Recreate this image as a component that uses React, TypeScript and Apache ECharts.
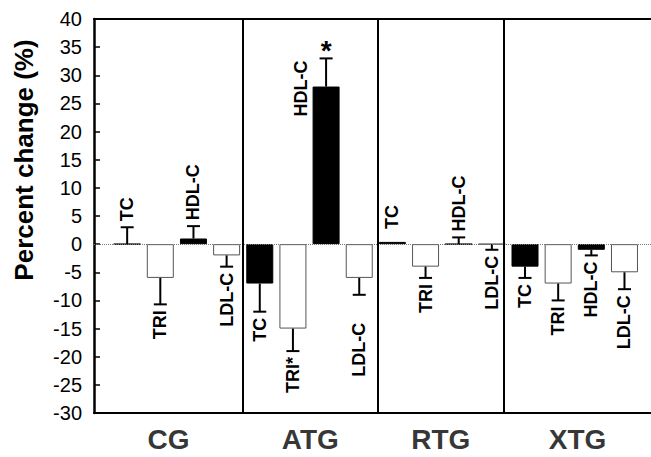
import React, { useEffect, useRef } from 'react';
import * as echarts from 'echarts';

// ---------- data ----------
const groups = ['CG', 'ATG', 'RTG', 'XTG'];
const measures = ['TC', 'TRI', 'HDL-C', 'LDL-C'];

// percent change (bar value) per measure, for each group
const cgValues = [0, -6, 1, -2];
const atgValues = [-7, -15, 28, -6];
const rtgValues = [0.4, -4, 0, 0];
const xtgValues = [-4, -7, -1, -5];

// signed error (positive = drawn upward, negative = drawn downward)
const cgErrors = [3, -4.7, 2.2, -2];
const atgErrors = [-5, -4, 5, -3];
const rtgErrors = [0, -2, 1.2, -1];
const xtgErrors = [-2, -3, -1, -3];

// significance markers (*)
const cgSig = [false, false, false, false];
const atgSig = [false, true, true, false];
const rtgSig = [false, false, false, false];
const xtgSig = [false, false, false, false];

const yMin = -30;
const yMax = 40;
const yStep = 5;

// ---------- layout / style ----------
const FONT = '"Liberation Sans", Arial, Helvetica, sans-serif';
const X_MAX = 16.8;
const DIVIDERS = [4.5, 8.55, 12.37];
const FILLED = ['TC', 'HDL-C'];
const LABEL_GAP = 6;
const LABEL_SHIFT: Record<string, [number, number]> = {
  'ATG|HDL-C': [-25, 64],
  'ATG|LDL-C': [0, 22],
  'RTG|TC': [0, -7],
};

const groupValues = [cgValues, atgValues, rtgValues, xtgValues];
const groupErrors = [cgErrors, atgErrors, rtgErrors, xtgErrors];
const groupSig = [cgSig, atgSig, rtgSig, xtgSig];

type Item = { x: number; v: number; e: number; sig: boolean; label: string; key: string; filled: boolean };
const items: Item[] = [];
groups.forEach((g, gi) => {
  measures.forEach((m, mi) => {
    items.push({
      x: gi * measures.length + mi + 1,
      v: groupValues[gi][mi],
      e: groupErrors[gi][mi],
      sig: groupSig[gi][mi],
      label: m,
      key: g + '|' + m,
      filled: FILLED.includes(m),
    });
  });
});

const bounds = [0, ...DIVIDERS, X_MAX];
const groupCenters = groups.map((_, i) => (bounds[i] + bounds[i + 1]) / 2);

export default function App() {
  const ref = useRef<HTMLDivElement>(null);

  useEffect(() => {
    const chart = echarts.init(ref.current!, null, { renderer: 'svg' });

    const axisLineStyle = { color: '#000', width: 2 };

    const option: any = {
      animation: false,
      backgroundColor: '#fff',
      grid: { left: 94, top: 19, right: 0, bottom: 44 },
      xAxis: [
        {
          type: 'value',
          min: 0,
          max: X_MAX,
          position: 'bottom',
          axisLine: { show: true, onZero: false, lineStyle: axisLineStyle },
          axisTick: { show: false },
          axisLabel: { show: false },
          splitLine: { show: false },
        },
        {
          type: 'value',
          min: 0,
          max: X_MAX,
          position: 'top',
          axisLine: { show: true, onZero: false, lineStyle: axisLineStyle },
          axisTick: { show: false },
          axisLabel: { show: false },
          splitLine: { show: false },
        },
      ],
      yAxis: {
        type: 'value',
        min: yMin,
        max: yMax,
        interval: yStep,
        axisLine: { show: true, onZero: false, lineStyle: { color: '#000', width: 2.5 } },
        axisTick: { show: true, inside: true, length: 6, lineStyle: { color: '#000', width: 1.5 } },
        axisLabel: { color: '#000', fontSize: 20, fontFamily: FONT, margin: 12 },
        splitLine: { show: false },
      },
      graphic: [
        {
          type: 'text',
          x: 24,
          y: 160,
          rotation: Math.PI / 2,
          style: {
            text: 'Percent change (%)',
            fontSize: 26,
            fontWeight: 'bold',
            fontFamily: FONT,
            fill: '#000',
            align: 'center',
            verticalAlign: 'middle',
          },
        },
      ],
      series: [
        {
          type: 'bar',
          barWidth: 27,
          silent: true,
          data: items.map((it) => ({
            value: [it.x, it.v],
            itemStyle: {
              color: it.filled ? '#000' : '#fff',
              borderColor: it.filled ? '#000' : '#555',
              borderWidth: 1,
            },
          })),
          markLine: {
            silent: true,
            symbol: 'none',
            label: { show: false },
            data: [
              { yAxis: 0, lineStyle: { type: 'dotted', color: '#777', width: 1 } },
              ...DIVIDERS.map((d) => ({ xAxis: d, lineStyle: { type: 'solid', color: '#000', width: 2 } })),
            ],
          },
          z: 2,
        },
        {
          type: 'custom',
          silent: true,
          clip: false,
          z: 3,
          data: items.map((it) => [it.x, it.v, it.e]),
          encode: { x: 0, y: 1 },
          renderItem: (params: any, api: any) => {
            const it = items[params.dataIndex];
            const x = api.value(0);
            const v = api.value(1);
            const e = api.value(2);
            const p0 = api.coord([x, v]);
            const p1 = api.coord([x, v + e]);
            const up = e > 0 || (e === 0 && v >= 0);
            const children: any[] = [];
            if (e !== 0) {
              children.push({
                type: 'line',
                shape: { x1: p0[0], y1: p0[1], x2: p1[0], y2: p1[1] },
                style: { stroke: '#000', lineWidth: 2 },
              });
              children.push({
                type: 'line',
                shape: { x1: p1[0] - 6.5, y1: p1[1], x2: p1[0] + 6.5, y2: p1[1] },
                style: { stroke: '#000', lineWidth: 2 },
              });
            }
            const shift = LABEL_SHIFT[it.key] || [0, 0];
            const endY = p1[1];
            const ly = (up ? endY - LABEL_GAP : endY + LABEL_GAP) + shift[1];
            children.push({
              type: 'text',
              x: p1[0] + shift[0],
              y: ly,
              rotation: Math.PI / 2,
              style: {
                text: it.label + (it.sig && !up ? '*' : ''),
                fontSize: 18,
                fontWeight: 'bold',
                fontFamily: FONT,
                fill: '#000',
                align: up ? 'left' : 'right',
                verticalAlign: 'middle',
              },
            });
            if (it.sig && up) {
              children.push({
                type: 'text',
                x: p1[0],
                y: endY - 8,
                style: {
                  text: '*',
                  fontSize: 28,
                  fontWeight: 'bold',
                  fontFamily: FONT,
                  fill: '#000',
                  align: 'center',
                  verticalAlign: 'middle',
                },
              });
            }
            return { type: 'group', children };
          },
        },
        {
          type: 'scatter',
          silent: true,
          symbolSize: 0,
          data: groupCenters.map((c) => [c, yMin]),
          label: {
            show: true,
            position: 'bottom',
            distance: 12,
            formatter: (p: any) => groups[p.dataIndex],
            color: '#000',
            fontSize: 28,
            fontWeight: 'bold',
            fontFamily: FONT,
          },
        },
      ],
    };

    chart.setOption(option);
    return () => chart.dispose();
  }, []);

  return (
    <div
      ref={ref}
      style={{ position: 'fixed', left: 0, top: 0, width: 651, height: 457, background: '#fff' }}
    />
  );
}
